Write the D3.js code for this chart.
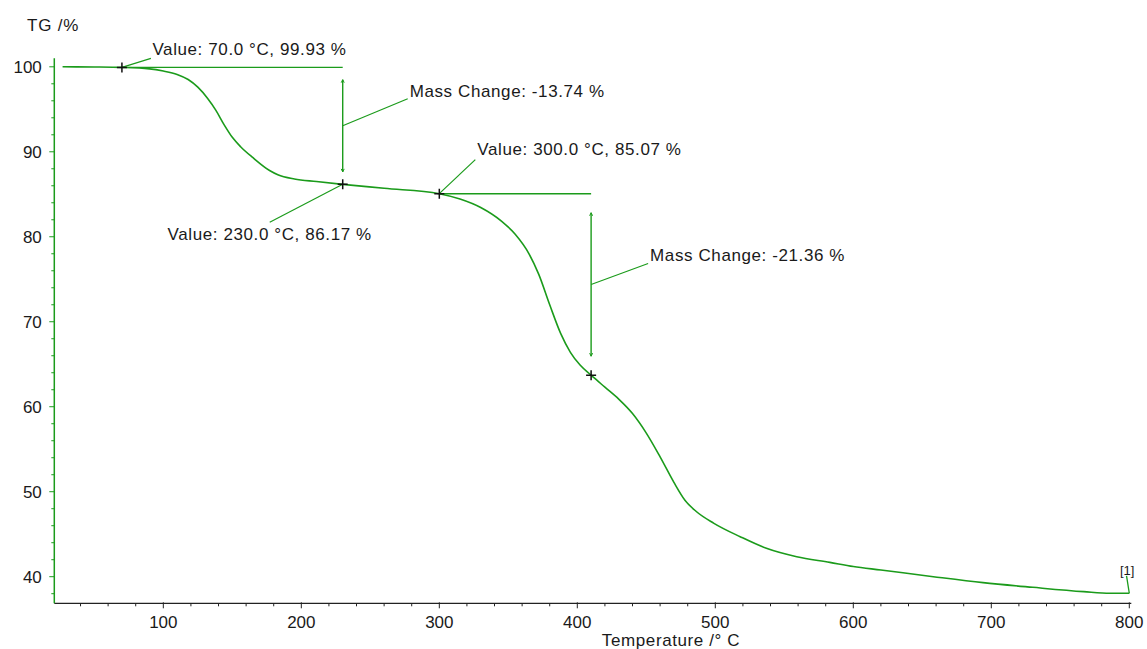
<!DOCTYPE html>
<html>
<head>
<meta charset="utf-8">
<script src="https://cdn.jsdelivr.net/npm/d3@7"></script>
<style>
  html, body { margin: 0; padding: 0; background: #fff; }
  svg { display: block; font-family: "Liberation Sans", Arial, sans-serif; }
</style>
</head>
<body>
<div id="chart"></div>
<script>
// TG curve
const temps = [27, 50, 70, 90, 100, 110, 118, 125, 132, 138, 144, 150, 156, 165, 177, 183,
  195, 211, 230, 260, 300, 315, 330, 345, 355, 365, 372, 380, 388, 395, 402, 410, 420, 430,
  440, 450, 460, 470, 478, 486, 499, 518, 537, 559, 583, 600, 620, 658, 694, 730, 767, 786, 800];
const mass = [100.0, 99.98, 99.93, 99.76, 99.5, 99.1, 98.5, 97.6, 96.3, 94.9, 93.2, 91.7,
  90.6, 89.3, 87.8, 87.3, 86.8, 86.5, 86.17, 85.7, 85.07, 84.45, 83.45, 81.85, 80.3, 78.0,
  75.6, 72.0, 68.6, 66.4, 64.9, 63.71, 62.3, 60.9, 59.2, 56.9, 54.1, 51.1, 49.0, 47.7,
  46.28, 44.71, 43.34, 42.35, 41.69, 41.2, 40.79, 40.0, 39.3, 38.75, 38.24, 38.05, 38.05];

// picked values and mass steps
const valueTemps = [70, 230, 300];
const valueMass = [99.93, 86.17, 85.07];
const stepStart = [70, 300];
const stepEnd = [230, 410];
const stepFrom = [99.93, 85.07];
const stepTo = [86.19, 63.71];
const stepChange = [-13.74, -21.36];

const xTicks = [100, 200, 300, 400, 500, 600, 700, 800];
const yTicks = [40, 50, 60, 70, 80, 90, 100];

const width = 1147, height = 649;
const green = "#1b9b1b", ink = "#1a1a1a";

const svg = d3.select("#chart").append("svg")
  .attr("width", width).attr("height", height);

const x = d3.scaleLinear().domain([21, 800]).range([54.3, 1129.3]);
const y = d3.scaleLinear().domain([36.87, 101.0]).range([603.3, 58.3]);

// axes
const xAxis = svg.append("g").attr("transform", `translate(0,${y.range()[0]})`);
xAxis.append("line")
  .attr("x1", x.range()[0]).attr("x2", x.range()[1] + 2)
  .attr("stroke", "#222").attr("stroke-width", 1.3);
xAxis.selectAll(".minor").data(d3.range(40, 801, 20).filter(t => t % 100 !== 0))
  .join("line")
  .attr("x1", d => x(d)).attr("x2", d => x(d))
  .attr("y1", 0).attr("y2", 3)
  .attr("stroke", "#222");
xAxis.selectAll(".major").data(xTicks)
  .join("line")
  .attr("x1", d => x(d)).attr("x2", d => x(d))
  .attr("y1", -1).attr("y2", 5)
  .attr("stroke", "#222");
xAxis.selectAll("text").data(xTicks)
  .join("text")
  .attr("x", d => x(d)).attr("y", 24.5)
  .attr("text-anchor", "middle")
  .attr("font-size", 17).attr("fill", ink)
  .text(d => d);

const yAxis = svg.append("g").attr("transform", `translate(${x.range()[0]},0)`);
yAxis.append("line")
  .attr("y1", y.range()[1]).attr("y2", y.range()[0])
  .attr("stroke", green).attr("stroke-width", 1.5);
yAxis.selectAll(".minor").data(d3.range(38, 101, 2).filter(v => v % 10 !== 0))
  .join("line")
  .attr("x1", -3).attr("x2", 0)
  .attr("y1", d => y(d)).attr("y2", d => y(d))
  .attr("stroke", green);
yAxis.selectAll(".major").data(yTicks)
  .join("line")
  .attr("x1", -5).attr("x2", 0)
  .attr("y1", d => y(d)).attr("y2", d => y(d))
  .attr("stroke", green);
yAxis.selectAll("text").data(yTicks)
  .join("text")
  .attr("x", -12.5).attr("y", d => y(d))
  .attr("dy", "0.36em")
  .attr("text-anchor", "end")
  .attr("font-size", 17).attr("fill", ink)
  .text(d => d);

svg.append("text")
  .attr("x", 27).attr("y", 31)
  .attr("font-size", 17).attr("letter-spacing", 0.8).attr("fill", ink)
  .text("TG /%");
svg.append("text")
  .attr("x", 671).attr("y", 645.5)
  .attr("text-anchor", "middle")
  .attr("font-size", 17).attr("letter-spacing", 0.6).attr("fill", ink)
  .text("Temperature /° C");

// curve
const pts = temps.map((t, i) => [t, mass[i]]);
const line = d3.line().x(d => x(d[0])).y(d => y(d[1])).curve(d3.curveMonotoneX);
svg.append("path")
  .attr("d", line(pts))
  .attr("fill", "none").attr("stroke", green).attr("stroke-width", 1.6);

// end marker [1]
const last = pts[pts.length - 1];
svg.append("line")
  .attr("x1", x(last[0])).attr("y1", y(last[1]))
  .attr("x2", x(798)).attr("y2", y(40.1))
  .attr("stroke", green).attr("stroke-width", 1.3);
svg.append("text")
  .attr("x", x(798.5)).attr("y", y(40.1) - 1)
  .attr("text-anchor", "middle")
  .attr("font-size", 13).attr("fill", ink)
  .text("[1]");

const ann = svg.append("g");

// mass change steps
const stepLabelOff = [[65, -27], [57, -21]];
stepStart.forEach((t0, i) => {
  const xa = x(t0), xb = x(stepEnd[i]);
  const ya = y(stepFrom[i]), yb = y(stepTo[i]);
  const inset = (yb - ya) * 0.105;
  ann.append("line")
    .attr("x1", xa).attr("x2", xb).attr("y1", ya).attr("y2", ya)
    .attr("stroke", green).attr("stroke-width", 1.4);
  ann.append("line")
    .attr("x1", xb).attr("x2", xb).attr("y1", ya + inset).attr("y2", yb - inset)
    .attr("stroke", green).attr("stroke-width", 1.4);
  [[ya + inset, 1], [yb - inset, -1]].forEach(([yy, s]) => {
    ann.append("path")
      .attr("d", `M${xb - 1.5},${yy + s * 3}L${xb},${yy}L${xb + 1.5},${yy + s * 3}`)
      .attr("fill", "none").attr("stroke", green);
  });
  const ym = (ya + yb) / 2;
  const [dx, dy] = stepLabelOff[i];
  ann.append("line")
    .attr("x1", xb).attr("y1", ym).attr("x2", xb + dx).attr("y2", ym + dy)
    .attr("stroke", green).attr("stroke-width", 1.2);
  ann.append("text")
    .attr("x", xb + dx + 2).attr("y", ym + dy - 2)
    .attr("font-size", 17).attr("letter-spacing", 0.6).attr("fill", ink)
    .text(`Mass Change: ${stepChange[i].toFixed(2)} %`);
});

// value picks
const valueLabelOff = [[29, -9, "start", 1.5, -3], [-73, 38, "middle", 0, 18], [36, -34, "start", 2, -5]];
valueTemps.forEach((t, i) => {
  const px = x(t), py = y(valueMass[i]);
  const [dx, dy, anchor, tx, ty] = valueLabelOff[i];
  ann.append("line")
    .attr("x1", px).attr("y1", py).attr("x2", px + dx).attr("y2", py + dy)
    .attr("stroke", green).attr("stroke-width", 1.2);
  ann.append("text")
    .attr("x", px + dx + tx).attr("y", py + dy + ty)
    .attr("text-anchor", anchor)
    .attr("font-size", 17).attr("letter-spacing", 0.6).attr("fill", ink)
    .text(`Value: ${t.toFixed(1)} °C, ${valueMass[i].toFixed(2)} %`);
});

// crosses on the curve
const crossT = valueTemps.concat([stepEnd[1]]);
const crossV = valueMass.concat([stepTo[1]]);
ann.selectAll(".cross").data(crossT)
  .join("path")
  .attr("d", (t, i) => {
    const cx = x(t), cy = y(crossV[i]);
    return `M${cx - 5},${cy}H${cx + 5}M${cx},${cy - 5}V${cy + 5}`;
  })
  .attr("stroke", "#111").attr("stroke-width", 1.5);
</script>
</body>
</html>
